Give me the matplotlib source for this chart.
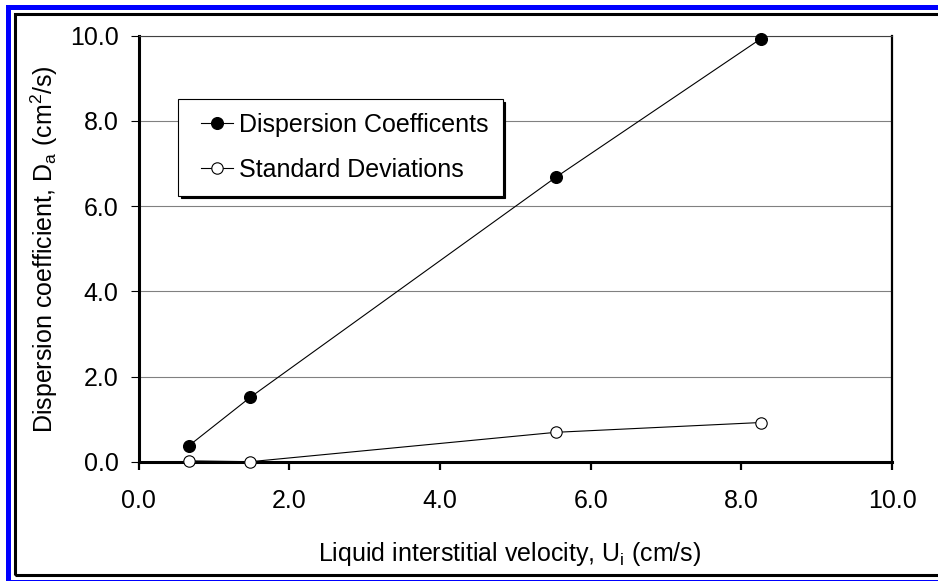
import numpy as np
import matplotlib
matplotlib.use('Agg')
import matplotlib.pyplot as plt
from matplotlib.patches import Rectangle
from matplotlib.ticker import FormatStrFormatter
from matplotlib.legend_handler import HandlerLine2D

plt.rcParams['font.family'] = ['Liberation Sans', 'DejaVu Sans']
plt.rcParams['mathtext.fontset'] = 'custom'
plt.rcParams['mathtext.rm'] = 'Liberation Sans'
plt.rcParams['mathtext.it'] = 'Liberation Sans'

# data
velocity = [0.67, 1.48, 5.54, 8.26]
dispersion = [0.38, 1.51, 6.68, 9.93]
std_dev = [0.02, 0.0, 0.69, 0.92]
ticks = [0.0, 2.0, 4.0, 6.0, 8.0, 10.0]

W, H = 938, 581
fig = plt.figure(figsize=(W / 100, H / 100), dpi=100)

def px(x, y):
    # pixel from top-left -> figure fraction
    return x / W, 1 - y / H

# outer frame: blue then black, both running off right/bottom edge
fig.add_artist(Rectangle(px(7.5, 581.5), (950 - 7.5) / W, (581.5 - 6.5) / H,
                         transform=fig.transFigure, fill=False,
                         edgecolor='#0000ff', linewidth=3.6))
fig.add_artist(Rectangle(px(14.5, 574.5), (950 - 14.5) / W, (574.5 - 13.5) / H,
                         transform=fig.transFigure, fill=False,
                         edgecolor='black', linewidth=2.2))

left, top, right, bottom = 138.7, 35.7, 892.0, 461.7
ax = fig.add_axes([left / W, 1 - bottom / H, (right - left) / W, (bottom - top) / H])

ax.plot(velocity, dispersion, '-o', color='black', linewidth=0.8,
        markersize=8.4, markerfacecolor='black', label='Dispersion Coefficents',
        clip_on=False, zorder=3)
ax.plot(velocity, std_dev, '-o', color='black', linewidth=0.8,
        markersize=8.2, markerfacecolor='white', markeredgewidth=0.8,
        label='Standard Deviations', clip_on=False, zorder=3)

ax.set_xlim(0, 10)
ax.set_ylim(0, 10)
ax.set_xticks(ticks)
ax.set_yticks(ticks)
ax.xaxis.set_major_formatter(FormatStrFormatter('%.1f'))
ax.yaxis.set_major_formatter(FormatStrFormatter('%.1f'))
ax.tick_params(axis='x', direction='out', length=6, width=1.6, pad=14, labelsize=18)
ax.tick_params(axis='y', direction='out', length=6, width=0.8, pad=8.5, labelsize=18)

ax.yaxis.grid(True, color='#808080', linewidth=0.8)
ax.set_axisbelow(True)
ax.spines['left'].set_linewidth(2.2)
ax.spines['bottom'].set_linewidth(2.2)
ax.spines['right'].set_linewidth(1.6)
ax.spines['top'].set_linewidth(0.8)
ax.spines['top'].set_color('#404040')

ax.set_ylabel(r'Dispersion coefficient, D$_{\mathregular{a}}$ (cm$^{\mathregular{2}}$/s)',
              fontsize=18)
ax.yaxis.set_label_coords(-0.105, 0.5)
ax.set_xlabel(r'Liquid interstitial velocity, U$_{\mathregular{i}}$ (cm/s)',
              fontsize=18, va='top')
ax.xaxis.set_label_coords(0.493, -0.184)


class IndentedLine(HandlerLine2D):
    # legend sample line starts a bit in from the frame, like the original
    def get_xdata(self, legend, xdescent, ydescent, width, height, fontsize):
        x0 = -xdescent + 0.38 * fontsize
        x1 = -xdescent + width
        return np.array([x0, x1]), np.array([(x0 + x1) / 2])


ax.legend(loc='upper left', bbox_to_anchor=px(178, 99), bbox_transform=fig.transFigure,
          borderaxespad=0, fontsize=18, handlelength=1.66, handletextpad=0.24,
          labelspacing=0.84, borderpad=0.55, fancybox=False, framealpha=1,
          edgecolor='black', shadow={'color': 'black', 'alpha': 1},
          handler_map={matplotlib.lines.Line2D: IndentedLine()})
ax.get_legend().get_frame().set_linewidth(0.8)

fig.savefig('out.png', dpi=100)
